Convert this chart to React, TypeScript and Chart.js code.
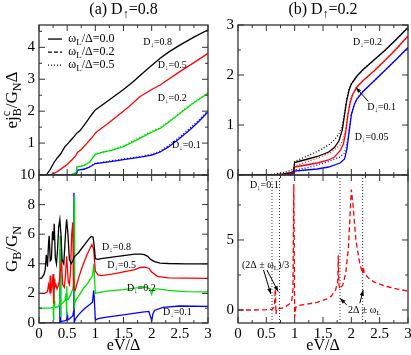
import React, { useEffect, useRef } from 'react';
import { Chart, registerables } from 'chart.js';

Chart.register(...registerables);

const SERIF = '"Liberation Serif", "Times New Roman", serif';

// ---------------- Panel (a) upper : e j_B^c / G_N Δ ----------------
const A_UP_BLACK_X = [0, 0.13, 0.2, 0.27, 0.33, 0.38, 0.46, 0.52, 0.58, 0.63, 0.67, 0.72, 0.76, 0.85, 0.93, 1.0, 1.08, 1.3, 1.5, 1.67, 1.9, 2.15, 2.3, 2.5, 2.75, 3.0];
const A_UP_BLACK_Y = [0, 0, 0.18, 0.4, 0.55, 0.65, 0.89, 1.0, 1.12, 1.22, 1.31, 1.38, 1.46, 1.68, 1.88, 2.04, 2.14, 2.42, 2.68, 2.92, 3.28, 3.66, 3.85, 4.07, 4.32, 4.55];
const A_UP_RED_X = [0, 0.2, 0.3, 0.4, 0.5, 0.6, 0.65, 0.68, 0.75, 0.85, 0.93, 1.0, 1.05, 1.2, 1.38, 1.6, 1.79, 2.0, 2.15, 2.3, 2.5, 2.75, 3.0];
const A_UP_RED_Y = [0, 0, 0.08, 0.2, 0.33, 0.5, 0.6, 0.7, 0.8, 0.99, 1.15, 1.31, 1.39, 1.58, 1.83, 2.15, 2.45, 2.68, 2.82, 3.0, 3.24, 3.52, 3.81];
const A_UP_GREEN_X = [0, 0.55, 0.62, 0.66, 0.67, 0.8, 0.9, 0.97, 1.0, 1.1, 1.3, 1.5, 1.67, 1.9, 2.0, 2.15, 2.3, 2.5, 2.7, 2.85, 3.0];
const A_UP_GREEN_Y = [0, 0, 0.04, 0.08, 0.25, 0.3, 0.4, 0.58, 0.65, 0.7, 0.78, 0.89, 1.04, 1.25, 1.34, 1.46, 1.65, 1.93, 2.2, 2.38, 2.56];
const A_UP_GREEN_DOT_Y = [0, 0, 0.04, 0.08, 0.25, 0.3, 0.41, 0.59, 0.66, 0.71, 0.8, 0.91, 1.07, 1.28, 1.37, 1.48, 1.67, 1.95, 2.22, 2.4, 2.58];
const A_UP_BLUE_X = [0, 0.62, 0.67, 0.68, 0.8, 0.9, 1.0, 1.1, 1.3, 1.5, 1.8, 2.0, 2.15, 2.3, 2.5, 2.7, 2.85, 3.0];
const A_UP_BLUE_Y = [0, 0, 0.05, 0.15, 0.18, 0.25, 0.36, 0.38, 0.43, 0.48, 0.56, 0.62, 0.72, 0.88, 1.15, 1.45, 1.7, 1.98];
const A_UP_BLUE_DOT_Y = [0, 0, 0.05, 0.15, 0.19, 0.26, 0.37, 0.39, 0.45, 0.5, 0.58, 0.65, 0.75, 0.92, 1.2, 1.5, 1.74, 2.02];

// ---------------- Panel (b) upper ----------------
const B_UP_BLACK_X = [0, 0.6, 0.8, 0.9, 0.98, 1.0, 1.1, 1.2, 1.4, 1.6, 1.7, 1.78, 1.84, 1.88, 1.92, 1.96, 2.0, 2.1, 2.2, 2.4, 2.6, 2.8, 3.0];
const B_UP_BLACK_Y = [0, 0, 0.02, 0.04, 0.07, 0.25, 0.28, 0.31, 0.37, 0.46, 0.55, 0.68, 0.9, 1.2, 1.5, 1.7, 1.82, 1.98, 2.1, 2.3, 2.5, 2.72, 2.95];
const B_UP_BLACK_DOT_Y = [0, 0.01, 0.05, 0.08, 0.12, 0.27, 0.32, 0.37, 0.47, 0.6, 0.7, 0.82, 0.98, 1.25, 1.52, 1.71, 1.83, 1.98, 2.1, 2.3, 2.5, 2.72, 2.95];
const B_UP_RED_X = [0, 0.7, 0.9, 0.98, 1.0, 1.1, 1.2, 1.4, 1.6, 1.7, 1.8, 1.86, 1.9, 1.94, 1.98, 2.02, 2.1, 2.2, 2.4, 2.6, 2.8, 3.0];
const B_UP_RED_Y = [0, 0, 0.02, 0.04, 0.16, 0.18, 0.2, 0.24, 0.3, 0.36, 0.48, 0.62, 0.85, 1.2, 1.45, 1.6, 1.76, 1.88, 2.08, 2.3, 2.53, 2.78];
const B_UP_RED_DOT_Y = [0, 0.01, 0.05, 0.08, 0.18, 0.22, 0.26, 0.34, 0.43, 0.5, 0.6, 0.72, 0.92, 1.24, 1.47, 1.61, 1.76, 1.88, 2.08, 2.3, 2.53, 2.78];
const B_UP_BLUE_X = [0, 0.8, 0.98, 1.0, 1.2, 1.4, 1.6, 1.8, 1.88, 1.92, 1.96, 2.0, 2.05, 2.1, 2.2, 2.4, 2.6, 2.8, 3.0];
const B_UP_BLUE_Y = [0, 0, 0.02, 0.08, 0.1, 0.12, 0.16, 0.24, 0.32, 0.5, 0.85, 1.2, 1.4, 1.52, 1.66, 1.88, 2.1, 2.32, 2.55];
const B_UP_BLUE_DOT_Y = [0, 0.01, 0.04, 0.1, 0.14, 0.2, 0.27, 0.36, 0.44, 0.6, 0.9, 1.22, 1.41, 1.53, 1.67, 1.88, 2.1, 2.32, 2.55];

// ---------------- Panel (a) lower : G_B / G_N ----------------
const A_LO_BLACK_X = [0, 0.05, 0.09, 0.11, 0.13, 0.15, 0.17, 0.18, 0.2, 0.22, 0.24, 0.26, 0.27, 0.29, 0.31, 0.33, 0.35, 0.37, 0.39, 0.41, 0.44, 0.47, 0.49, 0.51, 0.54, 0.57, 0.6, 0.63, 0.66, 0.7, 0.75, 0.8, 0.85, 0.9, 0.93, 0.96, 0.98, 1.0, 1.05, 1.1, 1.3, 1.5, 1.7, 1.8, 1.87, 1.93, 1.98, 2.05, 2.15, 2.3, 2.6, 3.0];
const A_LO_BLACK_Y = [3.0, 3.05, 3.3, 3.6, 4.6, 3.8, 5.4, 5.9, 4.2, 4.3, 6.2, 5.6, 6.7, 4.4, 4.0, 5.0, 6.5, 7.0, 6.0, 4.3, 4.0, 6.0, 7.0, 6.2, 4.3, 4.0, 4.2, 4.5, 4.6, 4.75, 5.0, 5.25, 5.5, 5.75, 5.85, 5.8, 5.2, 4.35, 4.3, 4.35, 4.45, 4.55, 4.65, 4.65, 4.62, 4.5, 4.3, 4.15, 4.05, 4.02, 4.0, 4.0];
const A_LO_RED_X = [0, 0.1, 0.15, 0.17, 0.19, 0.2, 0.21, 0.23, 0.25, 0.26, 0.27, 0.28, 0.3, 0.32, 0.34, 0.36, 0.38, 0.4, 0.42, 0.45, 0.47, 0.49, 0.5, 0.52, 0.54, 0.56, 0.58, 0.6, 0.61, 0.62, 0.64, 0.67, 0.7, 0.75, 0.8, 0.85, 0.9, 0.94, 0.97, 1.0, 1.05, 1.1, 1.3, 1.5, 1.7, 1.8, 1.88, 1.95, 2.0, 2.1, 2.3, 2.6, 3.0];
const A_LO_RED_Y = [2.0, 2.0, 2.1, 2.6, 2.2, 3.2, 2.0, 2.5, 3.3, 1.3, 3.0, 2.4, 2.6, 2.3, 2.5, 2.8, 3.5, 4.3, 2.6, 2.4, 3.2, 4.5, 4.0, 2.8, 2.6, 3.5, 6.0, 6.8, 3.0, 2.3, 2.2, 2.6, 3.0, 3.6, 4.1, 4.6, 5.0, 5.3, 5.0, 3.5, 3.25, 3.2, 3.3, 3.45, 3.6, 3.75, 3.78, 3.7, 3.45, 3.15, 3.05, 3.03, 3.02];
const A_LO_GREEN_X = [0, 0.2, 0.25, 0.26, 0.265, 0.27, 0.28, 0.3, 0.34, 0.37, 0.375, 0.38, 0.385, 0.39, 0.42, 0.46, 0.48, 0.49, 0.495, 0.5, 0.52, 0.56, 0.6, 0.62, 0.625, 0.63, 0.635, 0.64, 0.66, 0.7, 0.75, 0.8, 0.85, 0.9, 0.95, 0.975, 0.985, 1.0, 1.05, 1.2, 1.5, 1.8, 1.9, 1.97, 2.0, 2.03, 2.1, 2.3, 2.6, 3.0];
const A_LO_GREEN_Y = [1.0, 1.0, 1.05, 0.2, 3.3, 1.5, 1.1, 1.05, 1.1, 1.3, 5.9, 0.4, 1.2, 1.3, 1.35, 1.5, 2.0, 0.5, 2.5, 1.6, 1.6, 1.9, 2.3, 3.0, 8.5, 1.0, 1.2, 1.4, 1.6, 1.8, 2.1, 2.4, 2.6, 2.9, 3.2, 4.0, 3.0, 2.0, 2.05, 2.15, 2.25, 2.4, 2.42, 2.3, 1.95, 2.3, 2.3, 2.2, 2.12, 2.1];
const A_LO_BLUE_X = [0, 0.35, 0.37, 0.375, 0.38, 0.385, 0.39, 0.45, 0.49, 0.5, 0.51, 0.55, 0.6, 0.615, 0.62, 0.625, 0.63, 0.64, 0.66, 0.7, 0.75, 0.8, 0.85, 0.9, 0.95, 0.97, 0.98, 1.0, 1.05, 1.2, 1.5, 1.8, 1.95, 1.99, 2.0, 2.02, 2.05, 2.2, 2.5, 3.0];
const A_LO_BLUE_Y = [0, 0, 0.05, 5.0, 0.0, 0.1, 0.1, 0.15, 0.2, 0.5, 0.2, 0.3, 0.5, 0.8, 8.8, 0.0, 0.1, 0.2, 0.35, 0.55, 0.75, 0.95, 1.1, 1.25, 1.4, 2.2, 1.8, 0.2, 0.3, 0.4, 0.55, 0.72, 0.78, 0.3, 0.1, 0.6, 0.85, 1.05, 1.15, 1.12];

// ---------------- Panel (b) lower : G_B / G_N, D↓=0.1 ----------------
const B_LO_X = [0, 0.3, 0.5, 0.6, 0.64, 0.66, 0.67, 0.68, 0.72, 0.8, 0.9, 0.95, 0.97, 0.985, 0.995, 1.0, 1.02, 1.05, 1.1, 1.2, 1.4, 1.55, 1.65, 1.72, 1.76, 1.77, 1.78, 1.8, 1.85, 1.9, 1.95, 1.98, 2.0, 2.03, 2.08, 2.15, 2.2, 2.21, 2.23, 2.3, 2.4, 2.6, 2.8, 3.0];
const B_LO_Y = [0, 0, 0.02, 0.05, 0.2, 1.5, -0.3, 0.1, 0.1, 0.15, 0.4, 0.7, 1.5, 9.0, 3.0, -0.5, 0.2, 0.3, 0.35, 0.4, 0.55, 0.75, 1.0, 1.4, 2.0, 3.9, 1.8, 1.5, 1.8, 2.6, 4.5, 7.0, 8.6, 7.5, 5.0, 3.3, 2.6, 3.1, 2.6, 2.3, 2.0, 1.7, 1.5, 1.35];
const B_LO_MARKERS = [0.6, 0.733, 1.8, 2.2];

// ---------------- Axes ----------------
const X_LABELS = [0, 0.5, 1, 1.5, 2, 2.5, 3];
const X_MINOR = [0.25, 0.75, 1.25, 1.75, 2.25, 2.75];
const A_UP_Y_LABELS = [1, 2, 3, 4];
const A_UP_Y_MAJOR = [0, 1, 2, 3, 4];
const A_UP_Y_MINOR = [0.5, 1.5, 2.5, 3.5, 4.5];
const A_LO_Y_LABELS = [0, 2, 4, 6, 8, 10];
const A_LO_Y_MINOR = [1, 3, 5, 7, 9];
const B_UP_Y_LABELS = [0, 1, 2, 3];
const B_UP_Y_MINOR = [0.5, 1.5, 2.5];
const B_LO_Y_LABELS = [0, 5];
const B_LO_Y_MINOR = [2.5, 7.5];

const BLACK = '#000000';
const RED = '#ff0000';
const GREEN = '#00e000';
const BLUE = '#0000ff';

type Part = { t: string; sub?: boolean; sup?: boolean; na?: boolean };
type TextItem = { x: number; y: number; parts: Part[]; size: number; align?: 'left' | 'center' | 'right' };
type Arrow = { x1: number; y1: number; x2: number; y2: number };
type PanelCfg = {
  canvas: { left: number; top: number; w: number; h: number };
  pad: { top: number; right: number };
  yWidth: number;
  xHeight: number;
  xMin: number; xMax: number; yMin: number; yMax: number;
  xLabels: number[] | null;
  yLabels: number[];
  xMajor: number[]; xMinor: number[]; yMajor: number[]; yMinor: number[];
  datasets: any[];
  texts: TextItem[];
  arrows?: Arrow[];
  vlines?: number[];
  legend?: boolean;
  title?: Part[];
  yTitle?: Part[];
  yTitleSize?: number;
};

const D = (v: string): Part[] => [{ t: 'D' }, { t: '↓', sub: true }, { t: '=' + v }];

function drawRich(ctx: CanvasRenderingContext2D, parts: Part[], x: number, y: number, size: number, align: string, rot = 0) {
  ctx.save();
  ctx.translate(x, y);
  ctx.rotate(rot);
  const fontFor = (p: Part) => `${p.sub || p.sup ? Math.round(size * 0.72) : size}px ${SERIF}`;
  const widths = parts.map((p) => {
    ctx.font = fontFor(p);
    return ctx.measureText(p.t).width;
  });
  let total = 0;
  parts.forEach((p, i) => { if (!p.na) total += widths[i]; });
  let cx = align === 'left' ? 0 : align === 'center' ? -total / 2 : -total;
  ctx.textBaseline = 'middle';
  ctx.textAlign = 'left';
  ctx.fillStyle = '#000';
  parts.forEach((p, i) => {
    ctx.font = fontFor(p);
    const dy = p.sub ? size * 0.3 : p.sup ? -size * 0.38 : 0;
    ctx.fillText(p.t, cx, dy);
    if (!p.na) cx += widths[i];
  });
  ctx.restore();
}

function line(xs: number[], ys: number[], color: string, dash: number[] = [], width = 1.3) {
  return {
    data: xs.map((x, i) => ({ x, y: ys[i] })),
    borderColor: color,
    borderWidth: width,
    borderDash: dash,
    pointRadius: 0,
    tension: 0,
    fill: false,
  };
}

function makeDecor(cfg: PanelCfg) {
  return {
    id: 'decor',
    beforeDatasetsDraw(chart: any) {
      const ctx = chart.ctx as CanvasRenderingContext2D;
      const xs = chart.scales.x;
      const { top, bottom } = chart.chartArea;
      (cfg.vlines || []).forEach((v) => {
        const px = xs.getPixelForValue(v);
        ctx.save();
        ctx.strokeStyle = '#333';
        ctx.lineWidth = 1;
        ctx.setLineDash([1, 2]);
        ctx.beginPath();
        ctx.moveTo(px, top);
        ctx.lineTo(px, bottom);
        ctx.stroke();
        ctx.restore();
      });
    },
    afterDraw(chart: any) {
      const ctx = chart.ctx as CanvasRenderingContext2D;
      const xs = chart.scales.x;
      const ys = chart.scales.y;
      const { top, bottom, left, right } = chart.chartArea;
      ctx.save();
      ctx.strokeStyle = '#333';
      ctx.lineWidth = 1.3;
      ctx.strokeRect(left, top, right - left, bottom - top);
      ctx.lineWidth = 1;
      const tick = (vals: number[], len: number, horiz: boolean) => {
        vals.forEach((v) => {
          ctx.beginPath();
          if (horiz) {
            const px = xs.getPixelForValue(v);
            ctx.moveTo(px, bottom); ctx.lineTo(px, bottom - len);
            ctx.moveTo(px, top); ctx.lineTo(px, top + len);
          } else {
            const py = ys.getPixelForValue(v);
            ctx.moveTo(left, py); ctx.lineTo(left + len, py);
            ctx.moveTo(right, py); ctx.lineTo(right - len, py);
          }
          ctx.stroke();
        });
      };
      tick(cfg.xMajor, 6, true);
      tick(cfg.xMinor, 3, true);
      tick(cfg.yMajor, 6, false);
      tick(cfg.yMinor, 3, false);
      ctx.restore();

      cfg.texts.forEach((t) => {
        drawRich(ctx, t.parts, xs.getPixelForValue(t.x), ys.getPixelForValue(t.y), t.size, t.align || 'left');
      });

      (cfg.arrows || []).forEach((a) => {
        const x1 = xs.getPixelForValue(a.x1), y1 = ys.getPixelForValue(a.y1);
        const x2 = xs.getPixelForValue(a.x2), y2 = ys.getPixelForValue(a.y2);
        const ang = Math.atan2(y2 - y1, x2 - x1);
        ctx.save();
        ctx.strokeStyle = '#000';
        ctx.fillStyle = '#000';
        ctx.lineWidth = 1;
        ctx.beginPath();
        ctx.moveTo(x1, y1);
        ctx.lineTo(x2, y2);
        ctx.stroke();
        ctx.beginPath();
        ctx.moveTo(x2, y2);
        ctx.lineTo(x2 - 6 * Math.cos(ang - 0.35), y2 - 6 * Math.sin(ang - 0.35));
        ctx.lineTo(x2 - 6 * Math.cos(ang + 0.35), y2 - 6 * Math.sin(ang + 0.35));
        ctx.closePath();
        ctx.fill();
        ctx.restore();
      });

      if (cfg.legend) {
        const styles: number[][] = [[], [4, 2], [1, 2]];
        const vals = ['0.0', '0.2', '0.5'];
        const ly = [4.26, 3.85, 3.44];
        styles.forEach((d, i) => {
          const py = ys.getPixelForValue(ly[i]);
          ctx.save();
          ctx.strokeStyle = '#000';
          ctx.lineWidth = 1.3;
          ctx.setLineDash(d);
          ctx.beginPath();
          ctx.moveTo(xs.getPixelForValue(0.16), py);
          ctx.lineTo(xs.getPixelForValue(0.41), py);
          ctx.stroke();
          ctx.restore();
          drawRich(ctx, [{ t: 'ω' }, { t: 'L', sub: true }, { t: '/Δ=' + vals[i] }], xs.getPixelForValue(0.52), py, 12, 'left');
        });
      }

      if (cfg.title) {
        drawRich(ctx, cfg.title, (left + right) / 2, 10, 16, 'center');
      }
      if (cfg.yTitle) {
        drawRich(ctx, cfg.yTitle, 13, (top + bottom) / 2, cfg.yTitleSize || 17, 'center', -Math.PI / 2);
      }
    },
  };
}

function buildChart(canvas: HTMLCanvasElement, cfg: PanelCfg) {
  const tickFont = { family: SERIF, size: 15 };
  return new Chart(canvas, {
    type: 'line',
    data: { datasets: cfg.datasets },
    options: {
      animation: false,
      responsive: false,
      maintainAspectRatio: false,
      events: [],
      layout: { padding: { top: cfg.pad.top, right: cfg.pad.right, bottom: 0, left: 0 } },
      plugins: { legend: { display: false }, tooltip: { enabled: false }, title: { display: false } },
      scales: {
        x: {
          type: 'linear',
          min: cfg.xMin,
          max: cfg.xMax,
          grid: { display: false, drawTicks: false },
          border: { display: false },
          ticks: {
            display: !!cfg.xLabels,
            font: tickFont,
            color: '#000',
            padding: 2,
            maxRotation: 0,
            autoSkip: false,
            callback: (v: any) => String(v),
          },
          afterBuildTicks: (s: any) => { s.ticks = (cfg.xLabels || X_LABELS).map((v) => ({ value: v })); },
          afterFit: (s: any) => { s.height = cfg.xHeight; s.paddingLeft = 0; s.paddingRight = 0; },
          title: {
            display: !!cfg.xLabels,
            text: 'eV/Δ',
            font: { family: SERIF, size: 16 },
            color: '#000',
            padding: { top: 0, bottom: 0 },
          },
        },
        y: {
          type: 'linear',
          min: cfg.yMin,
          max: cfg.yMax,
          grid: { display: false, drawTicks: false },
          border: { display: false },
          ticks: { font: tickFont, color: '#000', padding: 4, callback: (v: any) => String(v) },
          afterBuildTicks: (s: any) => { s.ticks = cfg.yLabels.map((v) => ({ value: v })); },
          afterFit: (s: any) => { s.width = cfg.yWidth; s.paddingTop = 0; s.paddingBottom = 0; },
        },
      },
    } as any,
    plugins: [makeDecor(cfg)],
  });
}

const PANELS: PanelCfg[] = [
  {
    canvas: { left: 0, top: 0, w: 212, h: 185 },
    pad: { top: 25, right: 4 },
    yWidth: 39,
    xHeight: 10,
    xMin: 0, xMax: 3, yMin: 0, yMax: 4.7,
    xLabels: null,
    yLabels: A_UP_Y_LABELS,
    xMajor: X_LABELS, xMinor: X_MINOR, yMajor: A_UP_Y_MAJOR, yMinor: A_UP_Y_MINOR,
    datasets: [
      line(A_UP_BLUE_X, A_UP_BLUE_DOT_Y, BLUE, [1, 2]),
      line(A_UP_GREEN_X, A_UP_GREEN_DOT_Y, GREEN, [1, 2]),
      line(A_UP_BLACK_X, A_UP_BLACK_Y, BLACK),
      line(A_UP_RED_X, A_UP_RED_Y, RED),
      line(A_UP_GREEN_X, A_UP_GREEN_Y, GREEN),
      line(A_UP_BLUE_X, A_UP_BLUE_Y, BLUE),
    ],
    texts: [
      { x: 1.85, y: 4.17, parts: D('0.8'), size: 10 },
      { x: 2.11, y: 3.45, parts: D('0.5'), size: 10 },
      { x: 2.11, y: 2.41, parts: D('0.2'), size: 10 },
      { x: 2.36, y: 0.94, parts: D('0.1'), size: 10 },
    ],
    legend: true,
    title: [{ t: '(a) D' }, { t: '↑', sub: true }, { t: '=0.8' }],
    yTitle: [{ t: 'ej' }, { t: 'c', sup: true, na: true }, { t: 'B', sub: true }, { t: '/G' }, { t: 'N', sub: true }, { t: 'Δ' }],
  },
  {
    canvas: { left: 0, top: 160, w: 212, h: 195 },
    pad: { top: 15, right: 4 },
    yWidth: 39,
    xHeight: 32,
    xMin: 0, xMax: 3, yMin: 0, yMax: 10,
    xLabels: X_LABELS,
    yLabels: A_LO_Y_LABELS,
    xMajor: X_LABELS, xMinor: X_MINOR, yMajor: A_LO_Y_LABELS, yMinor: A_LO_Y_MINOR,
    datasets: [
      line(A_LO_BLACK_X, A_LO_BLACK_Y, BLACK),
      line(A_LO_RED_X, A_LO_RED_Y, RED),
      line(A_LO_GREEN_X, A_LO_GREEN_Y, GREEN),
      line(A_LO_BLUE_X, A_LO_BLUE_Y, BLUE),
    ],
    texts: [
      { x: 1.12, y: 5.14, parts: D('0.8'), size: 10 },
      { x: 1.21, y: 3.92, parts: D('0.5'), size: 10 },
      { x: 1.56, y: 2.36, parts: D('0.2'), size: 10 },
      { x: 2.2, y: 0.74, parts: D('0.1'), size: 10 },
    ],
    yTitle: [{ t: 'G' }, { t: 'B', sub: true }, { t: '/G' }, { t: 'N', sub: true }],
  },
  {
    canvas: { left: 208, top: 0, w: 203, h: 185 },
    pad: { top: 25, right: 3 },
    yWidth: 30,
    xHeight: 10,
    xMin: 0, xMax: 3, yMin: 0, yMax: 3,
    xLabels: null,
    yLabels: B_UP_Y_LABELS,
    xMajor: X_LABELS, xMinor: X_MINOR, yMajor: B_UP_Y_LABELS, yMinor: B_UP_Y_MINOR,
    datasets: [
      line(B_UP_BLACK_X, B_UP_BLACK_DOT_Y, BLACK, [1, 2]),
      line(B_UP_RED_X, B_UP_RED_DOT_Y, RED, [1, 2]),
      line(B_UP_BLUE_X, B_UP_BLUE_DOT_Y, BLUE, [1, 2]),
      line(B_UP_BLACK_X, B_UP_BLACK_Y, BLACK),
      line(B_UP_RED_X, B_UP_RED_Y, RED),
      line(B_UP_BLUE_X, B_UP_BLUE_Y, BLUE),
    ],
    texts: [
      { x: 2.03, y: 2.66, parts: D('0.2'), size: 10 },
      { x: 2.28, y: 1.36, parts: D('0.1'), size: 10 },
      { x: 2.06, y: 0.76, parts: D('0.05'), size: 10 },
    ],
    arrows: [{ x1: 2.3, y1: 1.47, x2: 2.08, y2: 1.75 }],
    title: [{ t: '(b) D' }, { t: '↑', sub: true }, { t: '=0.2' }],
  },
  {
    canvas: { left: 208, top: 160, w: 203, h: 195 },
    pad: { top: 15, right: 3 },
    yWidth: 30,
    xHeight: 32,
    xMin: 0, xMax: 3, yMin: -0.93, yMax: 9.64,
    xLabels: X_LABELS,
    yLabels: B_LO_Y_LABELS,
    xMajor: X_LABELS, xMinor: X_MINOR, yMajor: B_LO_Y_LABELS, yMinor: B_LO_Y_MINOR,
    datasets: [line(B_LO_X, B_LO_Y, RED, [5, 3])],
    vlines: B_LO_MARKERS,
    texts: [
      { x: 0.21, y: 8.93, parts: D('0.1'), size: 10 },
      { x: 0.07, y: 3.2, parts: [{ t: '(2Δ ± ω' }, { t: 'L', sub: true }, { t: ')/3' }], size: 10 },
      { x: 1.94, y: 0.0, parts: [{ t: '2Δ ± ω' }, { t: 'L', sub: true }], size: 10 },
    ],
    arrows: [
      { x1: 0.45, y1: 2.86, x2: 0.58, y2: 1.14 },
      { x1: 0.51, y1: 2.86, x2: 0.71, y2: 1.31 },
      { x1: 1.92, y1: 0.36, x2: 1.8, y2: 0.83 },
      { x1: 2.15, y1: 0.48, x2: 2.21, y2: 1.43 },
    ],
  },
];

function Panel({ cfg }: { cfg: PanelCfg }) {
  const ref = useRef<HTMLCanvasElement | null>(null);
  useEffect(() => {
    if (!ref.current) return;
    const chart = buildChart(ref.current, cfg);
    return () => chart.destroy();
  }, [cfg]);
  return (
    <canvas
      ref={ref}
      width={cfg.canvas.w}
      height={cfg.canvas.h}
      style={{ position: 'absolute', left: cfg.canvas.left, top: cfg.canvas.top, width: cfg.canvas.w, height: cfg.canvas.h }}
    />
  );
}

export default function App() {
  return (
    <div style={{ position: 'fixed', left: 0, top: 0, width: 411, height: 355, background: '#fff', overflow: 'hidden' }}>
      {PANELS.map((p, i) => (
        <Panel key={i} cfg={p} />
      ))}
    </div>
  );
}
